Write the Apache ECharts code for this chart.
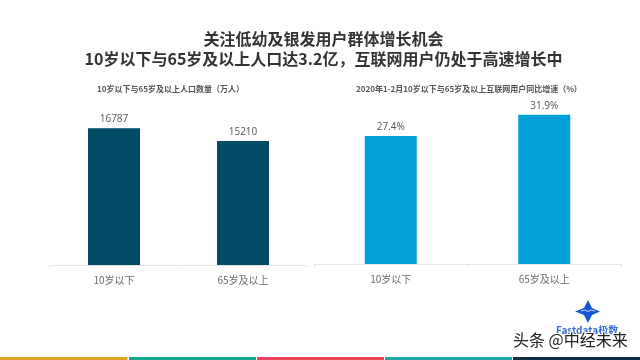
<!DOCTYPE html>
<html>
<head>
<meta charset="utf-8">
<style>
  html, body { margin: 0; padding: 0; background: #fff; }
  #chart { width: 640px; height: 360px; }
</style>
<script src="https://cdn.jsdelivr.net/npm/echarts@6/dist/echarts.min.js"></script>
</head>
<body>
<div id="chart"></div>
<script>
const font = '"Noto Sans CJK SC", "Noto Sans", sans-serif'

const categories = ['10岁以下', '65岁及以上']
const populationValues = [16787, 15210]
const growthValues = [27.4, 31.9]
const stripColors = ['#e0a526', '#12a88f', '#f0415a', '#1fa7a5', '#0f2f45']

const chart = echarts.init(document.getElementById('chart'))

function xAxisOf(gridIndex) {
  return {
    type: 'category',
    gridIndex: gridIndex,
    data: categories,
    axisLine: { lineStyle: { color: '#e6e6e6', width: 1 } },
    axisTick: { show: true, length: 3, lineStyle: { color: '#e6e6e6' } },
    axisLabel: { color: '#6a6a6a', fontSize: 10, fontFamily: font, margin: 10 }
  }
}

function yAxisOf(gridIndex, max) {
  return { type: 'value', gridIndex: gridIndex, min: 0, max: max, show: false }
}

function barOf(index, values, color, formatter) {
  return {
    type: 'bar',
    xAxisIndex: index,
    yAxisIndex: index,
    data: values,
    barWidth: 52,
    itemStyle: { color: color },
    label: {
      show: true,
      position: 'top',
      distance: 4,
      color: '#555',
      fontSize: 10,
      fontFamily: '"Open Sans", sans-serif',
      formatter: formatter
    }
  }
}

// bottom colour strip, five equal pieces
const strips = stripColors.map((c, i) => ({
  type: 'rect',
  shape: { x: i * 128 + (i ? 1 : 0), y: 357, width: i ? 127 : 127.5, height: 3 },
  style: { fill: c }
}))

chart.setOption({
  animation: false,
  backgroundColor: '#fff',
  title: [
    {
      text: '关注低幼及银发用户群体增长机会\n10岁以下与65岁及以上人口达3.2亿，互联网用户仍处于高速增长中',
      left: 318.5,
      top: 24,
      textAlign: 'center',
      textStyle: { color: '#333', fontSize: 16, lineHeight: 20, fontWeight: 'bold', fontFamily: font }
    },
    {
      text: '10岁以下与65岁及以上人口数量（万人）',
      left: 92,
      top: 80,
      textStyle: { color: '#555', fontSize: 8, fontWeight: 'bold', fontFamily: font }
    },
    {
      text: '2020年1-2月10岁以下与65岁及以上互联网用户同比增速（%）',
      left: 351,
      top: 80,
      textStyle: { color: '#555', fontSize: 8, fontWeight: 'bold', fontFamily: font }
    }
  ],
  grid: [
    { left: 49.5, width: 258, top: 102, height: 163 },
    { left: 314, width: 307, top: 77, height: 187 }
  ],
  xAxis: [xAxisOf(0), xAxisOf(1)],
  yAxis: [yAxisOf(0, 20000), yAxisOf(1, 40)],
  series: [
    barOf(0, populationValues, '#024c66', '{c}'),
    barOf(1, growthValues, '#039fd8', '{c}%')
  ],
  graphic: strips.concat([
    // logo mark
    { type: 'polygon', shape: { points: [[588, 300], [592, 308], [600, 311.5], [592, 315], [588, 323], [584, 315], [575, 311.5], [584, 308]] }, style: { fill: '#1557d0' } },
    { type: 'polyline', shape: { points: [[581, 311], [585, 310], [588, 311.5], [591, 310], [595, 311]] }, style: { stroke: '#cfe0f7', lineWidth: 1, fill: 'none' } },
    { type: 'text', style: { x: 556, y: 325, text: 'Fastdata极数', fill: '#3a6fd0', font: 'bold 10px ' + font } },
    // watermark
    { type: 'text', style: { x: 513, y: 332, text: '头条 @中经未来', fill: '#222', font: '16px ' + font, stroke: '#fff', lineWidth: 2 } }
  ])
})
</script>
</body>
</html>
